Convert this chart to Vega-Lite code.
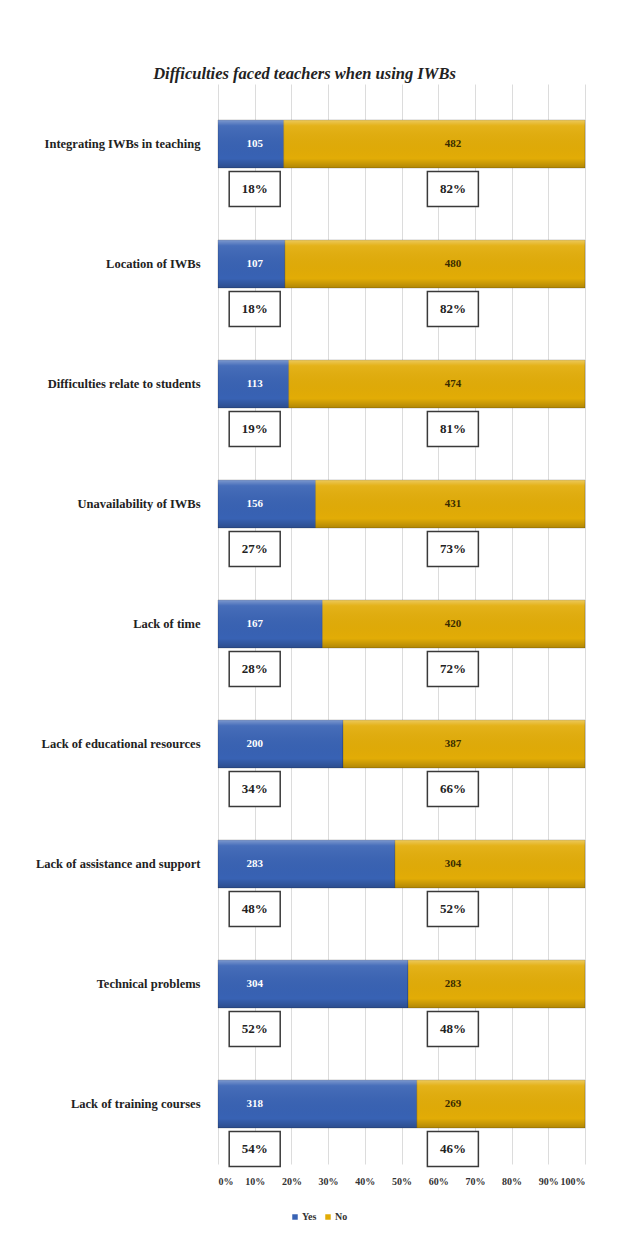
{
  "$schema": "https://vega.github.io/schema/vega-lite/v6.json",
  "autosize": {"type": "none"},
  "width": 367,
  "height": 1080,
  "padding": {"left": 218, "top": 84, "right": 42, "bottom": 88},
  "background": "white",
  "config": {
    "view": {"stroke": null},
    "axisX": {
      "title": null,
      "grid": true,
      "gridColor": "#dcdcdc",
      "gridWidth": 1,
      "domain": false,
      "ticks": false,
      "labelOverlap": false,
      "labelBound": false,
      "labelPadding": 12,
      "labelFont": "Liberation Serif",
      "labelFontSize": 10,
      "labelFontWeight": "bold",
      "labelColor": "#333333"
    }
  },
  "title": {
    "text": "Difficulties faced teachers when using IWBs",
    "font": "Liberation Serif",
    "fontSize": 16.5,
    "fontStyle": "italic",
    "fontWeight": "bold",
    "color": "#222222",
    "anchor": "middle",
    "dx": -97,
    "offset": 2
  },
  "data": {
    "values": [
      {"cat": "Integrating IWBs in  teaching", "Yes": 105, "No": 482},
      {"cat": "Location of IWBs", "Yes": 107, "No": 480},
      {"cat": "Difficulties relate to students", "Yes": 113, "No": 474},
      {"cat": "Unavailability  of IWBs", "Yes": 156, "No": 431},
      {"cat": "Lack of time", "Yes": 167, "No": 420},
      {"cat": "Lack of educational resources", "Yes": 200, "No": 387},
      {"cat": "Lack of assistance and support", "Yes": 283, "No": 304},
      {"cat": "Technical problems", "Yes": 304, "No": 283},
      {"cat": "Lack of training courses", "Yes": 318, "No": 269}
    ]
  },
  "transform": [
    {"calculate": "format(datum.Yes/(datum.Yes+datum.No), '.0%')", "as": "yesPct"},
    {"calculate": "format(datum.No/(datum.Yes+datum.No), '.0%')", "as": "noPct"}
  ],
  "encoding": {
    "y": {
      "field": "cat",
      "type": "nominal",
      "sort": null,
      "scale": {"paddingInner": 0.6, "paddingOuter": 0.3},
      "axis": {
        "title": null,
        "domain": false,
        "ticks": false,
        "labelPadding": 18,
        "labelFont": "Liberation Serif",
        "labelFontSize": 12.5,
        "labelFontWeight": "bold",
        "labelColor": "#222222",
        "labelLimit": 250
      }
    }
  },
  "layer": [
    {
      "transform": [{"fold": ["Yes", "No"], "as": ["key", "value"]}],
      "mark": {"type": "bar", "stroke": "#00000030", "strokeWidth": 1},
      "encoding": {
        "x": {
          "field": "value",
          "type": "quantitative",
          "stack": "normalize",
          "scale": {"domain": [0, 1]},
          "axis": {"values": [0, 0.1, 0.2, 0.3, 0.4, 0.5, 0.6, 0.7, 0.8, 0.9, 1], "format": ".0%"}
        },
        "color": {
          "field": "key",
          "type": "nominal",
          "scale": {"domain": ["Yes", "No"], "range": ["#3862b4", "#e2ac06"]},
          "legend": {
            "title": null,
            "orient": "none",
            "direction": "horizontal",
            "legendX": 72,
            "legendY": 1128,
            "symbolType": "square",
            "symbolSize": 30,
            "symbolStrokeWidth": 0,
            "labelFont": "Liberation Serif",
            "labelFontSize": 10,
            "labelFontWeight": "bold",
            "labelColor": "#333333",
            "labelOffset": 2,
            "columnPadding": 6
          }
        },
        "order": {"field": "key", "sort": "descending"}
      }
    },
    {
      "mark": {
        "type": "bar",
        "fill": {
          "gradient": "linear",
          "x1": 0, "y1": 0, "x2": 0, "y2": 1,
          "stops": [
            {"offset": 0, "color": "rgba(255,255,255,0.35)"},
            {"offset": 0.12, "color": "rgba(255,255,255,0.08)"},
            {"offset": 0.8, "color": "rgba(0,0,0,0.0)"},
            {"offset": 1, "color": "rgba(0,0,0,0.22)"}
          ]
        }
      },
      "encoding": {
        "x": {"datum": 0, "type": "quantitative", "axis": {"values": [0, 0.1, 0.2, 0.3, 0.4, 0.5, 0.6, 0.7, 0.8, 0.9, 1], "format": ".0%"}},
        "x2": {"datum": 1}
      }
    },
    {
      "mark": {"type": "text", "font": "Liberation Serif", "fontSize": 11, "fontWeight": "bold", "color": "#ffffff"},
      "encoding": {
        "x": {"datum": 0.1, "type": "quantitative", "axis": {"values": [0, 0.1, 0.2, 0.3, 0.4, 0.5, 0.6, 0.7, 0.8, 0.9, 1], "format": ".0%"}},
        "text": {"field": "Yes"}
      }
    },
    {
      "mark": {"type": "text", "font": "Liberation Serif", "fontSize": 11, "fontWeight": "bold", "color": "#3a2c00"},
      "encoding": {
        "x": {"datum": 0.64, "type": "quantitative", "axis": {"values": [0, 0.1, 0.2, 0.3, 0.4, 0.5, 0.6, 0.7, 0.8, 0.9, 1], "format": ".0%"}},
        "text": {"field": "No"}
      }
    },
    {
      "mark": {
        "type": "point",
        "shape": "M-1,-0.69L1,-0.69L1,0.69L-1,0.69Z",
        "size": 2601,
        "filled": true,
        "fill": "#ffffff",
        "stroke": "#3a3a3a",
        "strokeWidth": 1.5,
        "opacity": 1,
        "yOffset": 45
      },
      "encoding": {"x": {"datum": 0.1, "type": "quantitative", "axis": {"values": [0, 0.1, 0.2, 0.3, 0.4, 0.5, 0.6, 0.7, 0.8, 0.9, 1], "format": ".0%"}}}
    },
    {
      "mark": {
        "type": "point",
        "shape": "M-1,-0.69L1,-0.69L1,0.69L-1,0.69Z",
        "size": 2601,
        "filled": true,
        "fill": "#ffffff",
        "stroke": "#3a3a3a",
        "strokeWidth": 1.5,
        "opacity": 1,
        "yOffset": 45
      },
      "encoding": {"x": {"datum": 0.64, "type": "quantitative", "axis": {"values": [0, 0.1, 0.2, 0.3, 0.4, 0.5, 0.6, 0.7, 0.8, 0.9, 1], "format": ".0%"}}}
    },
    {
      "mark": {"type": "text", "font": "Liberation Serif", "fontSize": 13, "fontWeight": "bold", "color": "#222222", "yOffset": 45},
      "encoding": {
        "x": {"datum": 0.1, "type": "quantitative", "axis": {"values": [0, 0.1, 0.2, 0.3, 0.4, 0.5, 0.6, 0.7, 0.8, 0.9, 1], "format": ".0%"}},
        "text": {"field": "yesPct"}
      }
    },
    {
      "mark": {"type": "text", "font": "Liberation Serif", "fontSize": 13, "fontWeight": "bold", "color": "#222222", "yOffset": 45},
      "encoding": {
        "x": {"datum": 0.64, "type": "quantitative", "axis": {"values": [0, 0.1, 0.2, 0.3, 0.4, 0.5, 0.6, 0.7, 0.8, 0.9, 1], "format": ".0%"}},
        "text": {"field": "noPct"}
      }
    }
  ]
}
